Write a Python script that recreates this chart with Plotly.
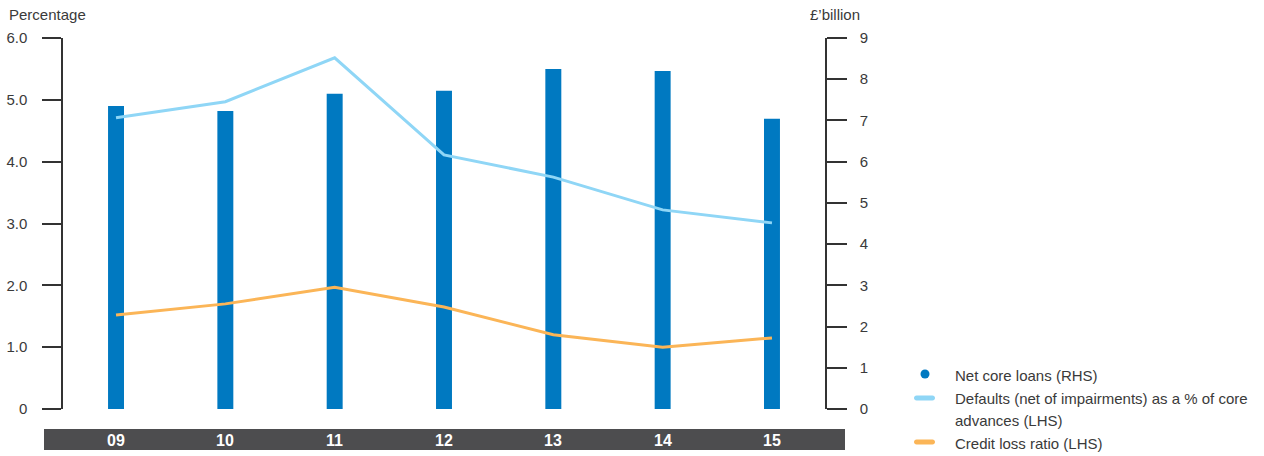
import plotly.graph_objects as go

categories = ["09", "10", "11", "12", "13", "14", "15"]
net_core_loans = [7.35, 7.23, 7.65, 7.72, 8.25, 8.20, 7.04]          # £'billion (RHS)
defaults_pct = [4.71, 4.97, 5.68, 4.11, 3.75, 3.22, 3.01]           # % (LHS)
credit_loss_ratio = [1.52, 1.70, 1.97, 1.65, 1.20, 1.00, 1.15]      # % (LHS)
left_tickvals = [0, 1, 2, 3, 4, 5, 6]
left_ticktext = ["0", "1.0", "2.0", "3.0", "4.0", "5.0", "6.0"]
right_tickvals = [0, 1, 2, 3, 4, 5, 6, 7, 8, 9]

W, H = 1264, 456
L, R, T, B = 63, 825, 38, 409

def px(x):
    return (x - L) / (R - L)

def py(y):
    return (B - y) / (B - T)

BAR = "#0079c1"
BLUE = "#8fd6f6"
ORANGE = "#fbb557"
TXT = "#3a3a3a"
FONT = "Liberation Sans"
FS = 15

fig = go.Figure()
fig.add_trace(go.Bar(x=categories, y=net_core_loans, yaxis="y", width=0.146,
                     marker=dict(color=BAR, line=dict(width=0)), showlegend=False))
fig.add_trace(go.Scatter(x=categories, y=defaults_pct, yaxis="y2", mode="lines",
                         line=dict(color=BLUE, width=3), showlegend=False))
fig.add_trace(go.Scatter(x=categories, y=credit_loss_ratio, yaxis="y2", mode="lines",
                         line=dict(color=ORANGE, width=3), showlegend=False))

shapes = []
annotations = []
# bottom category band
shapes.append(dict(type="rect", xref="paper", yref="paper", x0=px(44), x1=px(845),
                   y0=py(450), y1=py(429), fillcolor="#4d4d4f", line=dict(width=0), layer="below"))
for i, c in enumerate(categories):
    annotations.append(dict(x=i, xref="x", y=py(440), yref="paper", text="<b>%s</b>" % c,
                            showarrow=False, font=dict(color="white", size=16, family=FONT),
                            xanchor="center", yanchor="middle"))
# axis titles
annotations.append(dict(x=px(7), y=py(15), xref="paper", yref="paper", text="Percentage",
                        showarrow=False, xanchor="left", yanchor="middle",
                        font=dict(size=FS, color=TXT, family=FONT)))
annotations.append(dict(x=px(862), y=py(15), xref="paper", yref="paper", text="£’billion",
                        showarrow=False, xanchor="right", yanchor="middle",
                        font=dict(size=FS, color=TXT, family=FONT)))

# legend (manual)
shapes.append(dict(type="circle", xref="paper", yref="paper", x0=px(920.5), x1=px(929.5),
                   y0=py(378.5), y1=py(369.5), fillcolor=BAR, line=dict(width=0)))

def pill(x0, x1, yc, h, color):
    r = h / 2.0
    k = 0.55 * r
    pts = (
        f"M {px(x0 + r)} {py(yc - r)} L {px(x1 - r)} {py(yc - r)} "
        f"C {px(x1 - r + k)} {py(yc - r)} {px(x1)} {py(yc - k)} {px(x1)} {py(yc)} "
        f"C {px(x1)} {py(yc + k)} {px(x1 - r + k)} {py(yc + r)} {px(x1 - r)} {py(yc + r)} "
        f"L {px(x0 + r)} {py(yc + r)} "
        f"C {px(x0 + r - k)} {py(yc + r)} {px(x0)} {py(yc + k)} {px(x0)} {py(yc)} "
        f"C {px(x0)} {py(yc - k)} {px(x0 + r - k)} {py(yc - r)} {px(x0 + r)} {py(yc - r)} Z"
    )
    return dict(type="path", xref="paper", yref="paper", path=pts, fillcolor=color,
                line=dict(width=0))

shapes.append(pill(914, 935, 398, 5, BLUE))
shapes.append(pill(914, 935, 442, 5, ORANGE))
legend_lines = [
    ("Net core loans (RHS)", 375),
    ("Defaults (net of impairments) as a % of core", 398),
    ("advances (LHS)", 421),
    ("Credit loss ratio (LHS)", 443),
]
for txt, yc in legend_lines:
    annotations.append(dict(x=px(953), y=py(yc), xref="paper", yref="paper",
                            text=txt, showarrow=False, xanchor="left",
                            yanchor="middle", font=dict(size=FS, color=TXT, family=FONT)))

fig.update_layout(
    width=W, height=H,
    margin=dict(l=L, r=W - R, t=T, b=H - B, pad=0, autoexpand=False),
    paper_bgcolor="white", plot_bgcolor="white",
    font=dict(family=FONT, size=FS, color=TXT),
    showlegend=False,
    xaxis=dict(type="category", range=[-0.485, 6.485], showticklabels=False, showline=False,
               ticks="", showgrid=False, zeroline=False, fixedrange=True, automargin=False),
    yaxis=dict(side="right", range=[0, 9], tickvals=right_tickvals, ticks="outside",
               ticklen=20, tickwidth=1.5, tickcolor="#333333", showline=True, linewidth=1.5,
               linecolor="#333333", showgrid=False, zeroline=False, ticklabelstandoff=10,
               automargin=False, tickfont=dict(size=FS, color=TXT, family=FONT)),
    yaxis2=dict(side="left", overlaying="y", range=[0, 6], tickvals=left_tickvals,
                ticktext=left_ticktext, ticks="outside", ticklen=19, tickwidth=1.5,
                tickcolor="#333333", showline=True, linewidth=1.5, linecolor="#333333",
                showgrid=False, zeroline=False, ticklabelstandoff=12, automargin=False,
                tickfont=dict(size=FS, color=TXT, family=FONT)),
    shapes=shapes, annotations=annotations,
)

fig.write_html("out.html")
